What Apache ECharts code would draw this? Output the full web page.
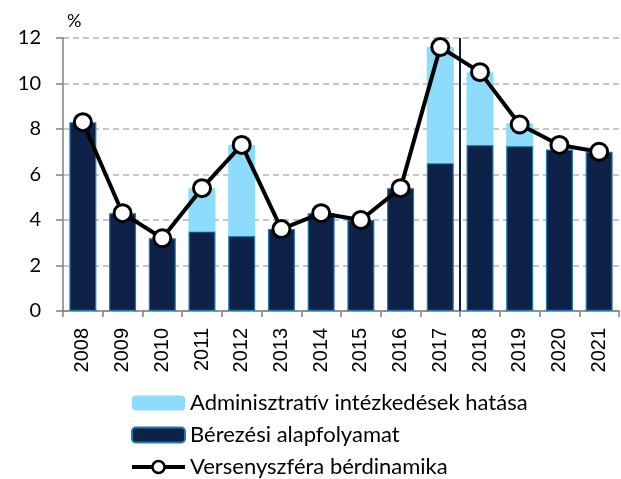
<!DOCTYPE html>
<html>
<head>
<meta charset="utf-8">
<script src="https://cdn.jsdelivr.net/npm/echarts@6/dist/echarts.min.js"></script>
<style>
html, body { margin: 0; padding: 0; background: #fff; }
#chart { width: 621px; height: 479px; }
</style>
</head>
<body>
<div id="chart"></div>
<script>
// adatok
const years = ['2008', '2009', '2010', '2011', '2012', '2013', '2014', '2015', '2016', '2017', '2018', '2019', '2020', '2021'];
const alap = [8.3, 4.3, 3.2, 3.5, 3.3, 3.6, 4.3, 4.0, 5.4, 6.5, 7.3, 7.25, 7.1, 7.0];
const admin = [0, 0, 0, 1.9, 4.0, 0, 0, 0, 0, 5.1, 3.2, 1.0, 0, 0];
const verseny = [8.3, 4.3, 3.2, 5.4, 7.3, 3.6, 4.3, 4.0, 5.4, 11.6, 10.5, 8.2, 7.3, 7.0];
const yTicks = [0, 2, 4, 6, 8, 10, 12];

const nameAdmin = 'Adminisztratív intézkedések hatása';
const nameAlap = 'Bérezési alapfolyamat';
const nameVerseny = 'Versenyszféra bérdinamika';

let myChart = echarts.init(document.getElementById('chart'));

let option = {
  animation: false,
  grid: { left: 63, right: 2, top: 38, bottom: 168, containLabel: false },
  legend: {
    orient: 'vertical',
    left: 130,
    top: 392,
    height: 140,
    padding: 0,
    itemWidth: 53,
    itemHeight: 15,
    itemGap: 10,
    data: [
      nameAdmin,
      nameAlap,
      { name: nameVerseny, lineStyle: { width: 4, color: '#000' }, itemStyle: { borderWidth: 2.5 } }
    ],
    textStyle: { fontFamily: 'Lato', fontSize: 22, color: '#000' }
  },
  xAxis: [
    {
      type: 'category',
      data: years,
      axisLine: { lineStyle: { color: '#808080', width: 1.5 } },
      axisTick: { show: true, length: 6, lineStyle: { color: '#808080', width: 1.5 } },
      axisLabel: { rotate: 90, fontFamily: 'Liberation Sans', fontSize: 20, color: '#000', margin: 17 }
    },
    { type: 'value', min: 0, max: 14, show: false }
  ],
  yAxis: {
    type: 'value',
    min: yTicks[0],
    max: yTicks[yTicks.length - 1],
    interval: 2,
    name: '%',
    nameLocation: 'end',
    nameGap: 8,
    nameTextStyle: { fontFamily: 'Lato', fontSize: 18, color: '#000', align: 'left', padding: [0, 0, 0, 4] },
    axisLine: { show: true, lineStyle: { color: '#808080', width: 1.5 } },
    axisTick: { show: true, length: 7, lineStyle: { color: '#808080', width: 1.5 } },
    axisLabel: { fontFamily: 'Lato', fontSize: 20, color: '#000', margin: 22 },
    splitLine: { lineStyle: { color: '#b4b4b4', type: [6, 4], width: 1.5 } }
  },
  series: [
    {
      name: nameAlap,
      type: 'bar',
      stack: 'ber',
      data: alap,
      barWidth: '68%',
      itemStyle: { color: '#0e2147', borderColor: '#2378ad', borderWidth: 1.2 }
    },
    {
      name: nameAdmin,
      type: 'bar',
      stack: 'ber',
      data: admin,
      itemStyle: { color: '#8ddcfc' }
    },
    {
      name: nameVerseny,
      type: 'line',
      data: verseny,
      symbol: 'circle',
      symbolSize: 17,
      lineStyle: { color: '#000', width: 4 },
      itemStyle: { color: '#fff', borderColor: '#000', borderWidth: 3 },
      z: 5
    },
    {
      // függőleges elválasztó 2017 és 2018 között
      type: 'line',
      xAxisIndex: 1,
      data: [],
      silent: true,
      markLine: {
        symbol: 'none',
        silent: true,
        label: { show: false },
        lineStyle: { color: '#0e2147', type: 'solid', width: 2 },
        data: [{ xAxis: 10 }]
      }
    }
  ]
};

myChart.setOption(option);
</script>
</body>
</html>
